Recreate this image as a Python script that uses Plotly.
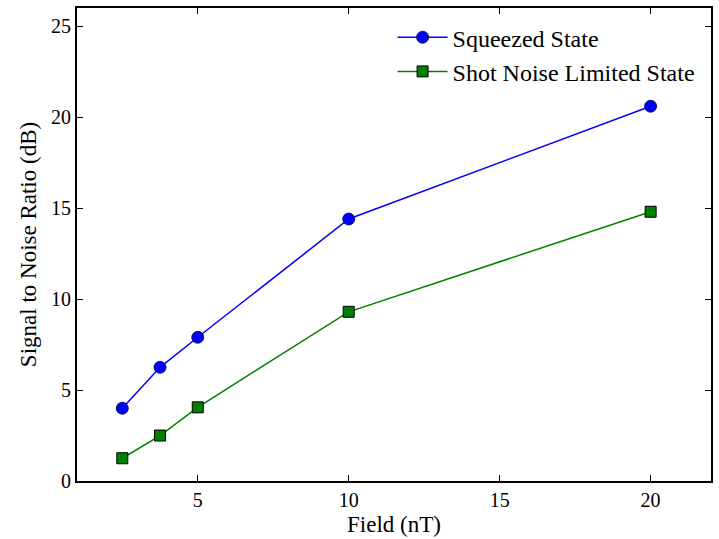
import plotly.graph_objects as go

field = [2.5, 3.75, 5, 10, 20]
squeezed = [4.0, 6.25, 7.9, 14.4, 20.6]
shot_noise = [1.25, 2.5, 4.05, 9.3, 14.8]

x_ticks = [5, 10, 15, 20]
y_ticks = [0, 5, 10, 15, 20, 25]

font = "Liberation Serif"

fig = go.Figure()
fig.add_trace(go.Scatter(
    x=field, y=squeezed, mode="lines+markers", name="Squeezed State",
    line=dict(color="#0000ff", width=1.5),
    marker=dict(symbol="circle", size=12, color="#0000ff", line=dict(color="#000033", width=0.8)),
))
fig.add_trace(go.Scatter(
    x=field, y=shot_noise, mode="lines+markers", name="Shot Noise Limited State",
    line=dict(color="#008000", width=1.5),
    marker=dict(symbol="square", size=11, color="#008000", line=dict(color="black", width=1)),
))

axis_common = dict(
    showgrid=False, zeroline=False, showline=True, linecolor="black", linewidth=2,
    mirror="ticks", ticks="inside", ticklen=6, tickwidth=1, tickcolor="black",
    tickfont=dict(family=font, size=20, color="black"),
)
fig.update_xaxes(range=[1, 22], tickvals=x_ticks,
                 title=dict(text="Field (nT)", font=dict(family=font, size=23, color="black"), standoff=6),
                 **axis_common)
fig.update_yaxes(range=[0, 26], tickvals=y_ticks,
                 title=dict(text="Signal to Noise Ratio (dB)", font=dict(family=font, size=23, color="black"), standoff=8),
                 **axis_common)

fig.update_layout(
    width=719, height=539,
    margin=dict(l=77, r=6, t=7, b=57),
    paper_bgcolor="white", plot_bgcolor="white",
    font=dict(family=font, color="black"),
    legend=dict(x=0.982, y=0.985, xanchor="right", yanchor="top",
                bgcolor="rgba(0,0,0,0)", borderwidth=0,
                font=dict(family=font, size=24, color="black"), itemwidth=50, tracegroupgap=4),
    showlegend=True,
)

fig.write_html("out.html")
